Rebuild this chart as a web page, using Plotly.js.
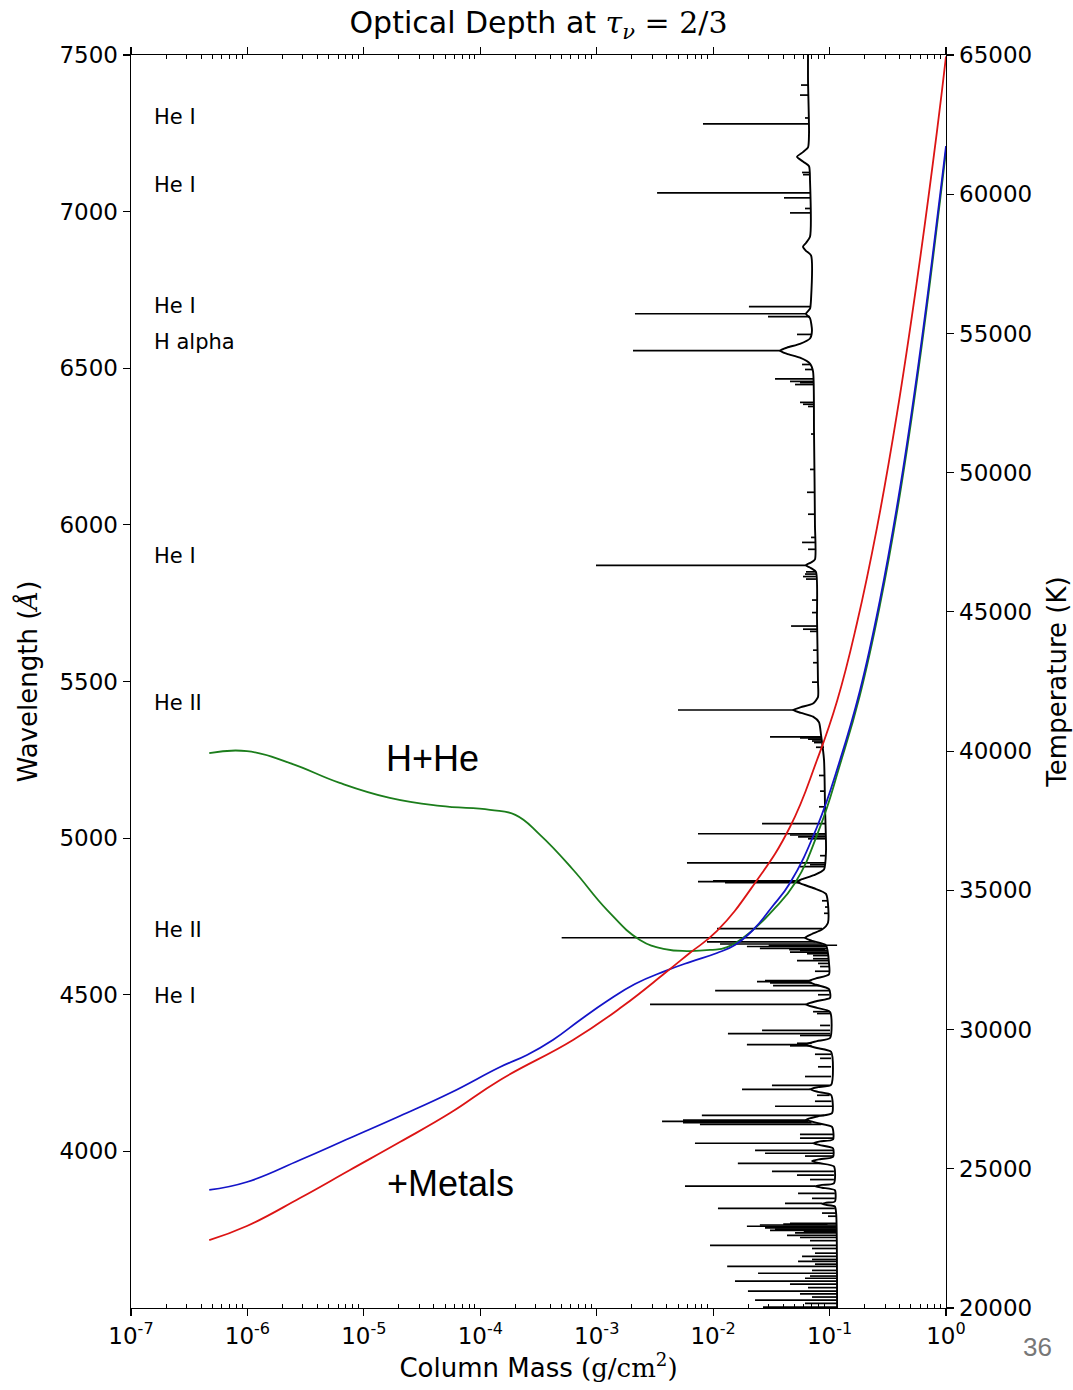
<!DOCTYPE html>
<html>
<head>
<meta charset="utf-8">
<script src="https://cdn.plot.ly/plotly-3.0.1.min.js"></script>
<style>html,body{margin:0;padding:0;background:#fff;}#chart{width:1073px;height:1390px;}</style>
</head>
<body>
<div id="chart"></div>
<script>
// ---------- axis ticks ----------
const wavelengthTicks = [4000, 4500, 5000, 5500, 6000, 6500, 7000, 7500];
const temperatureTicks = [20000, 25000, 30000, 35000, 40000, 45000, 50000, 55000, 60000, 65000];
const temperatureTickText = ['20000', '25000', '30000', '35000', '40000', '45000', '50000', '55000', '60000', '65000'];
const massTickVals = [1e-7, 1e-6, 1e-5, 1e-4, 1e-3, 1e-2, 1e-1, 1];
const massTickText = ['10<sup>-7</sup>', '10<sup>-6</sup>', '10<sup>-5</sup>', '10<sup>-4</sup>', '10<sup>-3</sup>', '10<sup>-2</sup>', '10<sup>-1</sup>', '10<sup>0</sup>'];

// ---------- spectrum: column mass at tau=2/3 (continuum + broad wings) ----------
const contWave = [7500, 7420, 7250, 7205, 7190, 7175, 7160, 7145, 7100, 6920, 6900, 6888, 6875, 6860, 6720, 6690, 6674, 6660, 6620, 6595, 6578, 6566, 6556, 6546, 6534, 6515, 6490, 6300, 6000, 5890, 5880, 5871, 5862, 5850, 5700, 5500, 5450, 5430, 5418, 5409, 5400, 5388, 5370, 5330, 5250, 5100, 4960, 4900, 4882, 4870, 4861, 4852, 4840, 4822, 4730, 4708, 4694, 4682, 4672, 4658, 4600, 4565, 4552, 4542, 4532, 4518, 4490, 4480, 4469, 4458, 4445, 4362, 4352, 4341, 4330, 4318, 4212, 4205, 4198, 4190, 4180, 4122, 4112, 4101, 4090, 4078, 4038, 4032, 4026, 4020, 4010, 3982, 3975, 3969, 3962, 3952, 3898, 3893, 3889, 3884, 3876, 3840, 3836, 3833, 3829, 3824, 3800, 3500];
const contMass = [0.0653, 0.0653, 0.0666, 0.0653, 0.0591, 0.0525, 0.0591, 0.0666, 0.0679, 0.0679, 0.0627, 0.0591, 0.0627, 0.0693, 0.0693, 0.0679, 0.0627, 0.0679, 0.0706, 0.0679, 0.0557, 0.0431, 0.0375, 0.0431, 0.0557, 0.0679, 0.0721, 0.0735, 0.0749, 0.0749, 0.0693, 0.0627, 0.0693, 0.0764, 0.0780, 0.0795, 0.0795, 0.0721, 0.0568, 0.0485, 0.0568, 0.0721, 0.0811, 0.0844, 0.0896, 0.0914, 0.0932, 0.0896, 0.0735, 0.0591, 0.0525, 0.0591, 0.0735, 0.0932, 0.0969, 0.0861, 0.0706, 0.0615, 0.0706, 0.0932, 0.0989, 0.0989, 0.0764, 0.0653, 0.0764, 0.0989, 0.101, 0.0780, 0.0627, 0.0780, 0.101, 0.101, 0.0780, 0.0615, 0.0780, 0.103, 0.103, 0.0795, 0.0679, 0.0795, 0.103, 0.105, 0.0795, 0.0627, 0.0795, 0.105, 0.107, 0.0828, 0.0721, 0.0828, 0.107, 0.107, 0.0828, 0.0706, 0.0828, 0.109, 0.109, 0.0861, 0.0749, 0.0861, 0.111, 0.111, 0.0932, 0.0861, 0.0932, 0.111, 0.114, 0.116];

// ---------- spectrum: individual absorption lines (wavelength, tip mass, base mass) ----------
const lineWave = [7404, 7372, 7299, 7280, 7125, 7118, 7060, 7044, 7010, 6996, 6697, 6674, 6665, 6608, 6556, 6512, 6496, 6466, 6458, 6454, 6448, 6391, 6385, 6378, 6290, 6177, 6104, 6034, 5960, 5944, 5922, 5871, 5850, 5843, 5835, 5827, 5760, 5720, 5677, 5667, 5660, 5600, 5560, 5498, 5409, 5323, 5320, 5316, 5310, 5305, 5290, 5200, 5150, 5100, 5046, 5014, 5010, 5004, 4998, 4944, 4921, 4915, 4909, 4864, 4861, 4858, 4800, 4780, 4760, 4711, 4682, 4669, 4662, 4654, 4648, 4641, 4636, 4631, 4625, 4615, 4609, 4600, 4590, 4575, 4545, 4542, 4538, 4529, 4513, 4500, 4469, 4446, 4440, 4402, 4386, 4376, 4370, 4345, 4341, 4337, 4310, 4297, 4270, 4239, 4211, 4198, 4179, 4160, 4144, 4115, 4100, 4096, 4092, 4086, 4054, 4042, 4026, 4003, 3994, 3985, 3962, 3936, 3924, 3910, 3889, 3866, 3850, 3834, 3818, 3803, 3793, 3770, 3765, 3761, 3756, 3752, 3748, 3740, 3732, 3725, 3715, 3700, 3690, 3675, 3665, 3655, 3649, 3640, 3633, 3620, 3611, 3602, 3595, 3586, 3576, 3565, 3554, 3545, 3535, 3525, 3515, 3503, 4658, 4644, 3768, 3758, 3745];
const lineTip = [0.0568, 0.0557, 0.0615, 0.00818, 0.0580, 0.0591, 0.00330, 0.0406, 0.0615, 0.0457, 0.0203, 0.00213, 0.0296, 0.0525, 0.00205, 0.0580, 0.0615, 0.0340, 0.0457, 0.0557, 0.0505, 0.0557, 0.0591, 0.0653, 0.0693, 0.0679, 0.0640, 0.0653, 0.0693, 0.0580, 0.0653, 0.000986, 0.0627, 0.0615, 0.0591, 0.0627, 0.0706, 0.0706, 0.0467, 0.0591, 0.0679, 0.0721, 0.0721, 0.0706, 0.00499, 0.0308, 0.0557, 0.0653, 0.0706, 0.0735, 0.0764, 0.0811, 0.0828, 0.0811, 0.0263, 0.00741, 0.0457, 0.0536, 0.0653, 0.0828, 0.00596, 0.0679, 0.0557, 0.00998, 0.00741, 0.01265, 0.0861, 0.0914, 0.0896, 0.0108, 0.00050, 0.00885, 0.01146, 0.0195, 0.0252, 0.0557, 0.0457, 0.0640, 0.0721, 0.0721, 0.0525, 0.0795, 0.0828, 0.0749, 0.0279, 0.0238, 0.0308, 0.0327, 0.0104, 0.0795, 0.00287, 0.0721, 0.0780, 0.0828, 0.0263, 0.0134, 0.0557, 0.0525, 0.0195, 0.0457, 0.0749, 0.0828, 0.0795, 0.0615, 0.0320, 0.0177, 0.0780, 0.0749, 0.0340, 0.0080, 0.00551, 0.00364, 0.00551, 0.0077, 0.0557, 0.0557, 0.00698, 0.0229, 0.0279, 0.0615, 0.0163, 0.0320, 0.0525, 0.0679, 0.00573, 0.0536, 0.0706, 0.0414, 0.0110, 0.0861, 0.0969, 0.0457, 0.0252, 0.0195, 0.0279, 0.0340, 0.0308, 0.0505, 0.0431, 0.0557, 0.0679, 0.0094, 0.0706, 0.0749, 0.0580, 0.0706, 0.0536, 0.0749, 0.0132, 0.0706, 0.0243, 0.0679, 0.0615, 0.0154, 0.0457, 0.0653, 0.0199, 0.0557, 0.0706, 0.0229, 0.0615, 0.0268, 0.0300, 0.0450, 0.0400, 0.0300, 0.0600];
const lineBase = [0.0653, 0.0653, 0.0666, 0.0666, 0.0679, 0.0679, 0.0679, 0.0679, 0.0679, 0.0679, 0.0693, 0.0627, 0.0679, 0.0706, 0.0375, 0.0679, 0.0721, 0.0721, 0.0721, 0.0721, 0.0721, 0.0735, 0.0735, 0.0735, 0.0735, 0.0749, 0.0749, 0.0749, 0.0749, 0.0749, 0.0749, 0.0627, 0.0764, 0.0764, 0.0764, 0.0764, 0.0780, 0.0780, 0.0780, 0.0780, 0.0780, 0.0795, 0.0795, 0.0795, 0.0485, 0.0844, 0.0844, 0.0844, 0.0844, 0.0844, 0.0896, 0.0896, 0.0914, 0.0914, 0.0914, 0.0932, 0.0932, 0.0932, 0.0932, 0.0932, 0.0932, 0.0914, 0.0896, 0.0560, 0.0525, 0.0560, 0.0969, 0.0969, 0.0969, 0.0861, 0.0615, 0.0760, 0.0870, 0.0932, 0.0950, 0.0960, 0.0960, 0.0970, 0.0975, 0.0980, 0.0985, 0.0989, 0.0989, 0.0989, 0.0700, 0.0653, 0.0700, 0.0820, 0.0989, 0.100, 0.0627, 0.100, 0.101, 0.101, 0.101, 0.101, 0.101, 0.0700, 0.0615, 0.0700, 0.103, 0.103, 0.103, 0.103, 0.100, 0.0679, 0.100, 0.104, 0.105, 0.090, 0.065, 0.066, 0.070, 0.085, 0.107, 0.107, 0.0721, 0.107, 0.107, 0.107, 0.0828, 0.109, 0.109, 0.109, 0.0749, 0.111, 0.111, 0.0861, 0.111, 0.114, 0.114, 0.114, 0.114, 0.114, 0.114, 0.114, 0.114, 0.114, 0.114, 0.114, 0.114, 0.115, 0.115, 0.115, 0.115, 0.115, 0.115, 0.115, 0.115, 0.115, 0.115, 0.115, 0.115, 0.115, 0.115, 0.116, 0.116, 0.116, 0.116, 0.116, 0.116, 0.116, 0.116, 0.0920, 0.0960, 0.114, 0.114, 0.114];

// ---------- temperature structure (right axis) ----------
const hheMass = [4.7e-7, 9.9e-7, 2.32e-6, 6.2e-6, 1.67e-5, 4.5e-5, 1.21e-4, 2.0e-4, 3.26e-4, 6.3e-4, 1.23e-3, 2.35e-3, 3.86e-3, 5.96e-3, 9.4e-3, 1.32e-2, 2.2e-2, 3.27e-2, 5.05e-2, 8.28e-2, 0.123, 0.182, 0.271, 0.403, 0.598, 0.888, 1.0];
const hheTemp = [39930, 40000, 39570, 38860, 38320, 38030, 37890, 37710, 36990, 35730, 34290, 33220, 32890, 32820, 32860, 32960, 33580, 34290, 35260, 37270, 39520, 42000, 45250, 49250, 54100, 59750, 61550];

const metalsAMass = [4.7e-7, 9.9e-7, 2.83e-6, 7.6e-6, 2.04e-5, 5.5e-5, 1.48e-4, 2.52e-4, 4.2e-4, 7.2e-4, 1.23e-3, 2.13e-3, 3.86e-3, 6.3e-3, 1.08e-2, 1.54e-2, 2.2e-2, 3.2e-2, 4.57e-2, 7.8e-2, 0.123, 0.182, 0.271, 0.403, 0.598, 0.888, 1.0];
const metalsATemp = [24240, 24525, 25315, 26105, 26895, 27720, 28655, 29086, 29625, 30343, 31025, 31636, 32100, 32425, 32750, 33040, 33575, 34400, 35265, 37275, 39680, 42160, 45430, 49450, 54300, 59940, 61730];

const metalsBMass = [4.7e-7, 9.9e-7, 2.83e-6, 7.6e-6, 2.04e-5, 5.5e-5, 1.48e-4, 6.26e-4, 1.68e-3, 3.86e-3, 6.3e-3, 1.08e-2, 2.29e-2, 4.57e-2, 7.8e-2, 0.116, 0.172, 0.255, 0.379, 0.563, 0.837, 1.0];
const metalsBTemp = [22440, 22945, 23950, 24956, 25960, 27000, 28190, 29625, 30845, 32030, 32750, 33540, 35265, 37275, 39680, 41800, 44600, 48010, 52110, 56880, 62270, 64950];

// ---------- text labels ----------
const lineLabels = ['He I', 'He I', 'He I', 'H alpha', 'He I', 'He II', 'He II', 'He I'];
const lineLabelWave = [7302, 7086, 6700, 6585, 5900, 5431, 4708, 4497];

// ---------- build traces ----------
const spikeX = [], spikeY = [];
for (let i = 0; i < lineWave.length; i++) {
  spikeX.push(lineBase[i], lineTip[i], null);
  spikeY.push(lineWave[i], lineWave[i], null);
}

const traces = [
  {x: contMass, y: contWave, type: 'scatter', mode: 'lines', line: {color: '#000', width: 1.9, shape: 'spline', smoothing: 0.6}, xaxis: 'x', yaxis: 'y', hoverinfo: 'skip'},
  {x: spikeX, y: spikeY, type: 'scatter', mode: 'lines', line: {color: '#000', width: 1.7}, connectgaps: false, xaxis: 'x', yaxis: 'y', hoverinfo: 'skip'},
  {x: hheMass, y: hheTemp, type: 'scatter', mode: 'lines', line: {color: '#1b7d1b', width: 1.8, shape: 'spline', smoothing: 1.3}, xaxis: 'x', yaxis: 'y2'},
  {x: metalsAMass, y: metalsATemp, type: 'scatter', mode: 'lines', line: {color: '#1414c8', width: 1.8, shape: 'spline', smoothing: 1.3}, xaxis: 'x', yaxis: 'y2'},
  {x: metalsBMass, y: metalsBTemp, type: 'scatter', mode: 'lines', line: {color: '#dc1414', width: 1.8, shape: 'spline', smoothing: 1.3}, xaxis: 'x', yaxis: 'y2'}
];

const minorVals = [];
for (let e = -7; e < 0; e++) { for (let k = 2; k <= 9; k++) minorVals.push(k * Math.pow(10, e)); }

const annotations = lineLabels.map((t, i) => ({
  text: t, x: -6.82, y: lineLabelWave[i], xref: 'x', yref: 'y', xanchor: 'left', yanchor: 'middle',
  showarrow: false, font: {family: 'DejaVu Sans', size: 21, color: '#000'}
}));
annotations.push({text: 'H+He', x: -4.41, y: 5253, xref: 'x', yref: 'y', xanchor: 'center', yanchor: 'middle', showarrow: false, font: {family: 'Liberation Sans, Arial', size: 36, color: '#000'}});
annotations.push({text: '+Metals', x: -4.26, y: 3898, xref: 'x', yref: 'y', xanchor: 'center', yanchor: 'middle', showarrow: false, font: {family: 'Liberation Sans, Arial', size: 36, color: '#000'}});
annotations.push({text: '36', x: 1.1117, y: -0.0311, xref: 'paper', yref: 'paper', xanchor: 'center', yanchor: 'middle', showarrow: false, font: {family: 'Liberation Sans, Arial', size: 26, color: '#777'}});

const layout = {
  width: 1073, height: 1390,
  margin: {l: 131, r: 127, t: 55, b: 82},
  paper_bgcolor: '#fff', plot_bgcolor: '#fff',
  showlegend: false,
  font: {family: 'DejaVu Sans', color: '#000'},
  title: {
    text: 'Optical Depth at <span style="font-family:\'DejaVu Serif\'"><i>τ</i><sub><i>ν</i></sub> = 2/3</span>',
    font: {family: 'DejaVu Sans', size: 30, color: '#000'},
    x: 0.5, xref: 'paper', xanchor: 'center', y: 0.984, yref: 'container', yanchor: 'middle'
  },
  xaxis: {
    type: 'log', range: [-7, 0],
    tickmode: 'array', tickvals: massTickVals, ticktext: massTickText,
    ticks: 'outside', ticklen: 7, tickwidth: 1.2, tickcolor: '#000',
    minor: {tickmode: 'array', tickvals: minorVals, ticks: 'inside', ticklen: 4, tickwidth: 1, tickcolor: '#000', showgrid: false},
    showline: true, linecolor: '#000', linewidth: 1.4, mirror: 'ticks',
    showgrid: false, zeroline: false,
    tickfont: {family: 'DejaVu Sans', size: 23, color: '#000'},
    title: {text: 'Column Mass <span style="font-family:\'DejaVu Serif\'">(g/cm<sup>2</sup>)</span>', font: {family: 'DejaVu Sans', size: 26, color: '#000'}, standoff: 6}
  },
  yaxis: {
    range: [3500, 7500], tickmode: 'array', tickvals: wavelengthTicks,
    ticks: 'outside', ticklen: 7, tickwidth: 1.2, tickcolor: '#000',
    showline: true, linecolor: '#000', linewidth: 1.4, mirror: false,
    showgrid: false, zeroline: false,
    tickfont: {family: 'DejaVu Sans', size: 23, color: '#000'},
    title: {text: 'Wavelength (<span style="font-family:\'DejaVu Serif\'"><i>Å</i></span>)', font: {family: 'DejaVu Sans', size: 26, color: '#000'}, standoff: 14}
  },
  yaxis2: {
    overlaying: 'y', side: 'right', range: [20000, 65000],
    tickmode: 'array', tickvals: temperatureTicks, ticktext: temperatureTickText,
    ticks: 'outside', ticklen: 7, tickwidth: 1.2, tickcolor: '#000',
    showline: true, linecolor: '#000', linewidth: 1.4,
    showgrid: false, zeroline: false,
    tickfont: {family: 'DejaVu Sans', size: 23, color: '#000'},
    title: {text: 'Temperature (K)', font: {family: 'DejaVu Sans', size: 26, color: '#000'}, standoff: 16}
  },
  annotations: annotations
};

Plotly.newPlot('chart', traces, layout, {displayModeBar: false, staticPlot: true});
</script>
</body>
</html>
